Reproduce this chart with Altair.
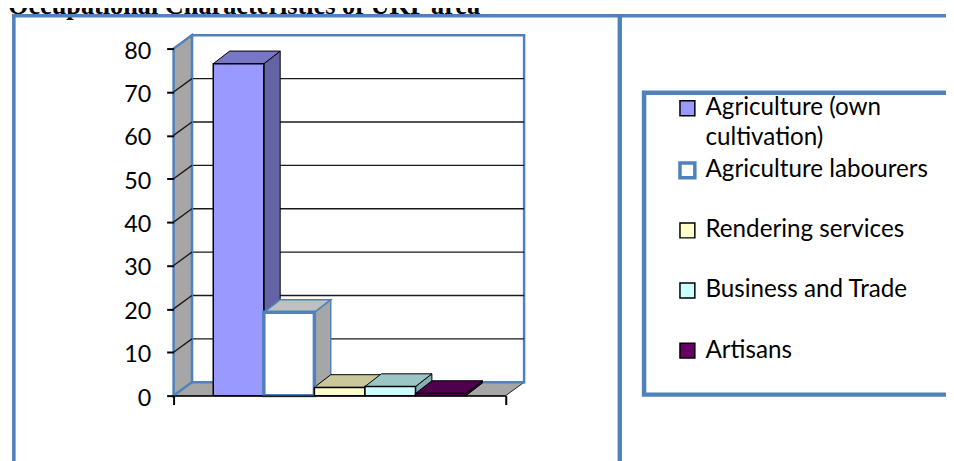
import altair as alt
import pandas as pd

# ---------------- data ----------------
categories = ["Agriculture (own cultivation)", "Agriculture labourers",
              "Rendering services", "Business and Trade", "Artisans"]
values = [76.5, 19.2, 1.9, 2.1, 0.5]
y_ticks = [0, 10, 20, 30, 40, 50, 60, 70, 80]
title_text = ". Occupational Characteristics of UKP area"
wrapped_first = ["Agriculture (own", "cultivation)"]

# ---------------- styles ----------------
front_colors = ["#9999FF", "#FFFFFF", "#FFFFCC", "#CCFFFF", "#660066"]
top_colors = ["#7777C6", "#C0C0C0", "#C8C89C", "#9CC6C6", "#4E004E"]
side_colors = ["#6464A4", "#A6A6A6", "#ACAC88", "#86B0B0", "#3E003E"]
edge_colors = ["#000000", "#4F81BD", "#000000", "#000000", "#000000"]
front_edge_w = [1.5, 3.5, 1.5, 1.5, 1.5]
face_edge_w = [1.0, 1.5, 1.0, 1.0, 1.0]
BLUE = "#4F81BD"
GREY = "#A6A6A6"

W, H = 335, 350
Y_MAX = 80
pad = 40 / 51
x_lo, x_hi = -pad, len(categories) + pad
ux = W / (x_hi - x_lo)
uy = H / Y_MAX
wdx, wdy = 18.5 / ux, 13.5 / uy      # wall depth (data units)
bdx, bdy = 16.5 / ux, 12.8 / uy      # bar depth (data units)

OX, OY = 175, 47                     # page position of plot origin
def px(v):
    return v - OX
def py(v):
    return v - OY

xs = alt.Scale(domain=[x_lo, x_hi], nice=False, zero=False)
ys = alt.Scale(domain=[0, Y_MAX], nice=False, zero=False)
ax_x = alt.Axis(values=[x_lo, x_hi], labels=False, tickSize=9, tickWidth=2,
                tickColor="black", domainColor="black", domainWidth=1.5,
                grid=False, zindex=1)
ax_y = alt.Axis(values=y_ticks, tickSize=7, tickWidth=2, tickColor="black",
                domain=False, grid=False, labelFont="Lato", labelFontSize=23.5,
                labelColor="black", labelPadding=16, labelOffset=2.5, zindex=1)

def X(f, **kw):
    return alt.X(f, scale=xs, axis=ax_x, title=None, **kw)
def Y(f, **kw):
    return alt.Y(f, scale=ys, axis=ax_y, title=None, **kw)

# ---------------- tables ----------------
front_df = pd.DataFrame({
    "cat": categories, "value": values,
    "x0": [i for i in range(len(categories))],
    "x1": [i + 1 for i in range(len(categories))],
    "zero": [0] * len(categories),
})
top_rows, side_rows = [], []
for i, (c, v) in enumerate(zip(categories, values)):
    top_rows.append(dict(cat=c, y=v, xa=i, xb=i + 1, f=top_colors[i], s=edge_colors[i], sw=face_edge_w[i]))
    top_rows.append(dict(cat=c, y=v + bdy, xa=i + bdx, xb=i + 1 + bdx, f=top_colors[i], s=edge_colors[i], sw=face_edge_w[i]))
    side_rows.append(dict(cat=c, x=i + 1, ya=0, yb=v, f=side_colors[i], s=edge_colors[i], sw=face_edge_w[i]))
    side_rows.append(dict(cat=c, x=i + 1 + bdx, ya=bdy, yb=v + bdy, f=side_colors[i], s=edge_colors[i], sw=face_edge_w[i]))
top_df = pd.DataFrame(top_rows)
side_df = pd.DataFrame(side_rows)

back_df = pd.DataFrame({"xa": [x_lo + wdx], "xb": [x_hi + wdx], "ya": [wdy], "yb": [Y_MAX + wdy]})
grid_back_df = pd.DataFrame({"xa": [x_lo + wdx] * 7, "xb": [x_hi + wdx] * 7,
                             "y": [t + wdy for t in y_ticks[1:-1]]})
grid_side_df = pd.DataFrame({"xa": [x_lo] * 7, "xb": [x_lo + wdx] * 7,
                             "ya": y_ticks[1:-1], "yb": [t + wdy for t in y_ticks[1:-1]]})
floor_df = pd.DataFrame({"y": [0, wdy], "xa": [x_lo, x_lo + wdx], "xb": [x_hi, x_hi + wdx]})
lwall_df = pd.DataFrame({"x": [x_lo, x_lo + wdx], "ya": [0, wdy], "yb": [Y_MAX, Y_MAX + wdy]})
one = pd.DataFrame({"k": [0]})

# ---------------- decorations ----------------
title = alt.Chart(one).mark_text(
    text=title_text, font="Liberation Serif", fontSize=26.5, fontWeight="bold",
    align="left", baseline="alphabetic", color="black"
).encode(x=alt.value(px(-5.3)), y=alt.value(py(12)))

frame_top = alt.Chart(one).mark_rule(color=BLUE, strokeWidth=3.6).encode(
    x=alt.value(px(12)), x2=alt.value(px(1000)), y=alt.value(py(13.8)))
frame_left = alt.Chart(one).mark_rule(color=BLUE, strokeWidth=3.6).encode(
    x=alt.value(px(13.9)), y=alt.value(py(12)), y2=alt.value(py(480)))
frame_mid = alt.Chart(one).mark_rule(color=BLUE, strokeWidth=4.4).encode(
    x=alt.value(px(625)), y=alt.value(py(12)), y2=alt.value(py(480)))
legend_box = alt.Chart(one).mark_rect(fill="white", stroke=BLUE, strokeWidth=4.5).encode(
    x=alt.value(px(649.5)), x2=alt.value(px(1000)), y=alt.value(py(91.5)), y2=alt.value(py(396)))

# ---------------- walls ----------------
back = alt.Chart(back_df).mark_rect(fill="white", stroke=BLUE, strokeWidth=2.5).encode(
    x=X("xa:Q"), x2="xb:Q", y=Y("ya:Q"), y2="yb:Q")
grid_back = alt.Chart(grid_back_df).mark_rule(color="#1a1a1a", strokeWidth=1.4).encode(
    x=X("xa:Q"), x2="xb:Q", y=Y("y:Q"))
floor = alt.Chart(floor_df).mark_area(orient="horizontal", fill=GREY, stroke="#222222", strokeWidth=1).encode(
    y=Y("y:Q"), x=X("xa:Q", stack=None), x2="xb:Q")
floor_back = alt.Chart(back_df).mark_rule(color=BLUE, strokeWidth=2.5).encode(
    x=X("xa:Q"), x2="xb:Q", y=Y("ya:Q"))
lwall = alt.Chart(lwall_df).mark_area(orient="vertical", fill=GREY, stroke=BLUE, strokeWidth=2.5).encode(
    x=X("x:Q"), y=Y("ya:Q", stack=None), y2="yb:Q")
grid_side = alt.Chart(grid_side_df).mark_rule(color="#1a1a1a", strokeWidth=1.4).encode(
    x=X("xa:Q"), x2="xb:Q", y=Y("ya:Q"), y2="yb:Q")

# ---------------- bars ----------------
sides = alt.Chart(side_df).mark_area(orient="vertical").encode(
    x=X("x:Q"), y=Y("ya:Q", stack=None), y2="yb:Q",
    detail="cat:N",
    fill=alt.Fill("f:N", scale=None), stroke=alt.Stroke("s:N", scale=None),
    strokeWidth=alt.StrokeWidth("sw:Q", scale=None))
tops = alt.Chart(top_df).mark_area(orient="horizontal").encode(
    y=Y("y:Q"), x=X("xa:Q", stack=None), x2="xb:Q",
    detail="cat:N",
    fill=alt.Fill("f:N", scale=None), stroke=alt.Stroke("s:N", scale=None),
    strokeWidth=alt.StrokeWidth("sw:Q", scale=None))

label_expr = ("datum.label == '%s' ? ['%s', '%s'] : [datum.label, '']"
              % (categories[0], wrapped_first[0], wrapped_first[1]))
leg = alt.Legend(title=None, orient="none", legendX=px(681), legendY=py(95),
                 symbolType="square", symbolSize=225,
                 labelFont="Lato", labelFontSize=24.4, labelColor="black",
                 labelLimit=400, labelOffset=6, rowPadding=5.6, padding=0,
                 labelExpr=label_expr)

fronts = alt.Chart(front_df).mark_rect().encode(
    x=X("x0:Q"), x2="x1:Q",
    y=Y("value:Q"), y2="zero:Q",
    fill=alt.Fill("cat:N", scale=alt.Scale(domain=categories, range=front_colors), legend=leg),
    stroke=alt.Stroke("cat:N", scale=alt.Scale(domain=categories, range=edge_colors), legend=leg),
    strokeWidth=alt.StrokeWidth("cat:N", scale=alt.Scale(type="ordinal", domain=categories, range=front_edge_w), legend=leg),
)

chart = alt.layer(
    title, frame_top, frame_left, frame_mid, legend_box,
    back, grid_back, floor, floor_back, lwall, grid_side,
    sides, tops, fronts,
).properties(
    width=W, height=H,
    autosize=alt.AutoSizeParams(type="none"),
    padding={"left": 167, "top": 39, "right": 444, "bottom": 64},
).configure_view(stroke=None).configure(
    style={"guide-label": {"lineHeight": 30}}
)

chart.save("out.html", embed_options={"renderer": "svg", "actions": False})
